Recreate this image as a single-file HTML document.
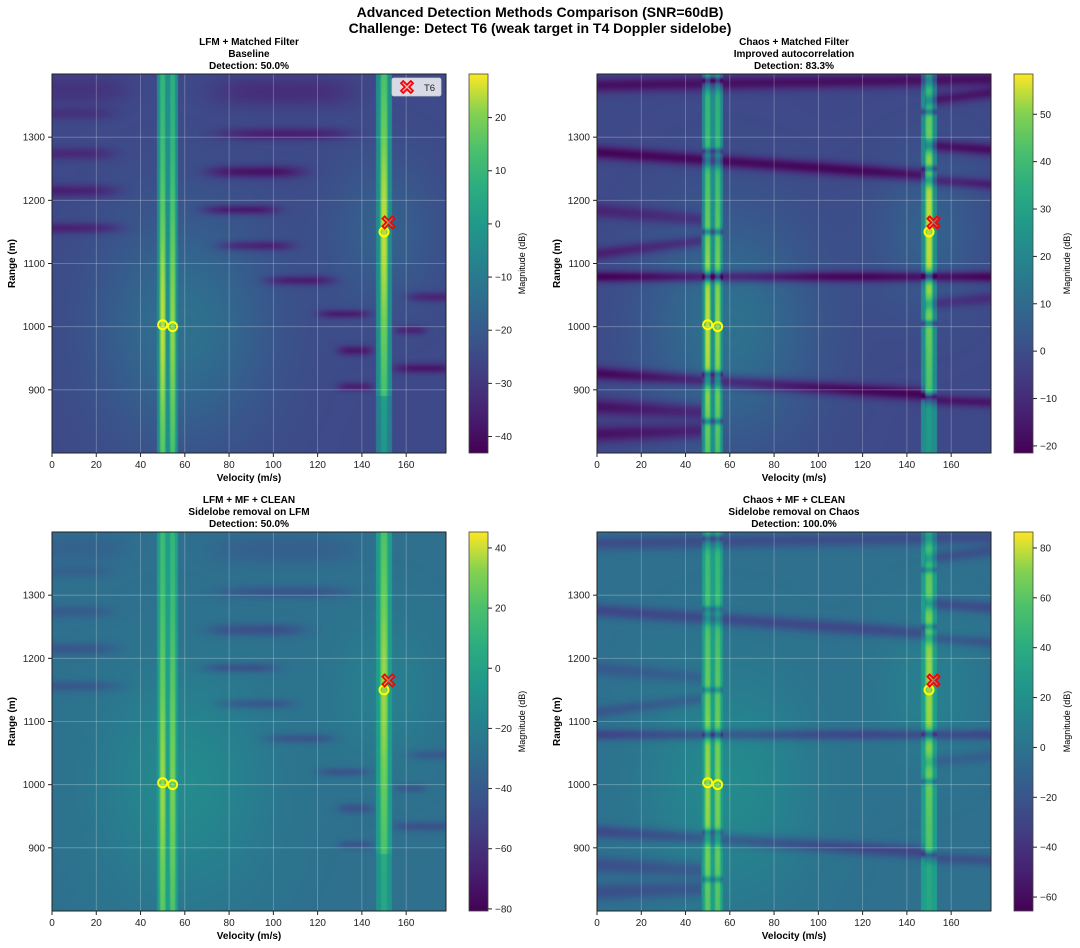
<!DOCTYPE html>
<html><head><meta charset="utf-8">
<style>
body{margin:0;background:#fff;width:1080px;height:948px;overflow:hidden;font-family:"Liberation Sans","DejaVu Sans",sans-serif;}
#root{position:relative;width:1080px;height:948px;}
.t{position:absolute;white-space:nowrap;color:#000;}
canvas{position:absolute;}
</style></head>
<body>
<div id="root">
<div class="t" style="left:0;width:1080px;text-align:center;top:4px;font-size:14px;font-weight:bold;line-height:16px;">Advanced Detection Methods Comparison (SNR=60dB)<br>Challenge: Detect T6 (weak target in T4 Doppler sidelobe)</div>
<svg id="svg" width="1080" height="948" style="position:absolute;left:0;top:0;"></svg>
</div>
<script>
// ---- data ----
const velocityTicks = [0,20,40,60,80,100,120,140,160];
const rangeTicks = [900,1000,1100,1200,1300];
const velDomain = [0,178];
const rangeDomain = [800,1400];
const detectedVel = [50,54.5,150];
const detectedRange = [1003,1000,1150];
const t6Vel = [152];
const t6Range = [1165];
const bandVel = [50,54.5,150];
const bandPeak = [0.97,0.93,0.97];
const titles = ["LFM + Matched Filter\nBaseline\nDetection: 50.0%","Chaos + Matched Filter\nImproved autocorrelation\nDetection: 83.3%","LFM + MF + CLEAN\nSidelobe removal on LFM\nDetection: 50.0%","Chaos + MF + CLEAN\nSidelobe removal on Chaos\nDetection: 100.0%"];
const cbarMin = [-43.1,-21.5,-80.7,-65.6];
const cbarMax = [28.2,58.5,45.3,86.4];
const cbarTicks1 = [-40,-30,-20,-10,0,10,20];
const cbarTicks2 = [-20,-10,0,10,20,30,40,50];
const cbarTicks3 = [-80,-60,-40,-20,0,20,40];
const cbarTicks4 = [-60,-40,-20,0,20,40,60,80];
// LFM sidelobe streaks: velocity centre, range centre, velocity half-width, range half-height, depth
const lfmStreakV = [10,8,8,10,105,105,92,85,92,112,132,137,137,172,162,168,10];
const lfmStreakR = [1337,1274,1215,1156,1372,1305,1245,1185,1128,1073,1020,962,905,1047,994,934,1375];
const lfmStreakHW = [18,20,22,22,32,30,22,17,17,16,12,8,8,12,7,14,24];
const lfmStreakHH = [10,10,10,9,24,10,10,8,8,8,7,8,7,8,7,8,24];
const lfmStreakDepth = [0.08,0.12,0.15,0.15,0.1,0.15,0.2,0.2,0.18,0.18,0.18,0.18,0.15,0.15,0.15,0.18,0.08];
// Chaos streak lines: v0, r0, v1, r1, sigma, depth
const chaosV0 = [0,0,150,150,0,0,150,0,0,0,0,150,150];
const chaosR0 = [1382,1276,1287,1232,1079,926,884,1184,1115,873,830,1358,1036];
const chaosV1 = [178,146,178,178,178,146,178,45,45,45,45,178,178];
const chaosR1 = [1392,1240,1280,1225,1079,893,880,1170,1135,865,835,1370,1045];
const chaosSig = [12,11,10,9,9,11,9,12,10,14,14,10,10];
const chaosDepth = [0.2,0.24,0.22,0.18,0.26,0.24,0.18,0.14,0.16,0.2,0.2,0.18,0.12];
const chaosGapR1 = [1390,1278,1150,1079,925,850];
const chaosGapR2 = [1340,1250,1080,1005,890];

const PL=[52,597], PT=[74,532], PW=394, PH=379, CBX=[469,1014], CBW=19;
const svg=document.getElementById('svg');
const NS='http://www.w3.org/2000/svg';
function mk(tag,attrs,parent){const e=document.createElementNS(NS,tag);for(const k in attrs)e.setAttribute(k,attrs[k]);(parent||svg).appendChild(e);return e;}
const vir=[[0,68,1,84],[0.13,72,40,120],[0.25,62,73,137],[0.38,49,104,142],[0.5,38,130,142],[0.63,31,158,137],[0.75,53,183,121],[0.88,110,206,88],[1,253,231,37]];
function cmap(t){t=Math.max(0,Math.min(1,t));for(let i=1;i<vir.length;i++){if(t<=vir[i][0]){const a=vir[i-1],b=vir[i],f=(t-a[0])/(b[0]-a[0]);return [a[1]+f*(b[1]-a[1]),a[2]+f*(b[2]-a[2]),a[3]+f*(b[3]-a[3])];}}return [253,231,37];}

function lines(v,r,chaos){
  let s=0;
  const env1=0.76+0.22*Math.exp(-Math.pow((r-1000)/230,2));
  const env2=(r<890?0.6:0.76)+0.22*Math.exp(-Math.pow((r-1150)/230,2));
  for(let i=0;i<bandVel.length;i++){
    const env=i<2?env1:env2;
    const w=i<2?1.9:2.4;
    s=Math.max(s,bandPeak[i]*env*Math.exp(-Math.pow((v-bandVel[i])/w,4)));
  }
  let inB1=Math.abs(v-52.2)<4.6, inB2=Math.abs(v-150)<3.6;
  if(inB1) s=Math.max(s,0.55); if(inB2) s=Math.max(s,r<890&&!chaos?0.48:0.55);
  return {s,inB:inB1||inB2,b1:inB1,b2:inB2};
}
function field(v,r,chaos){
  let bg=0.25+0.17*Math.exp(-Math.pow((v-60)/38,2)-Math.pow((r-1000)/180,2))+0.1*Math.exp(-Math.pow((v-150)/25,2)-Math.pow((r-1150)/120,2));
  if(!chaos){
    for(let i=0;i<lfmStreakV.length;i++){
      const dv=(v-lfmStreakV[i])/lfmStreakHW[i], dr=(r-lfmStreakR[i])/lfmStreakHH[i];
      bg-=lfmStreakDepth[i]*Math.exp(-dv*dv*dv*dv-dr*dr);
    }
    const L=lines(v,r,false);
    return L.inB?Math.max(bg,L.s):bg;
  } else {
    const L=lines(v,r,true);
    let t=L.inB?Math.max(bg,L.s):bg;
    for(let i=0;i<chaosV0.length;i++){
      if(v<chaosV0[i]-2||v>chaosV1[i]+2)continue;
      const rc=chaosR0[i]+(chaosR1[i]-chaosR0[i])*(v-chaosV0[i])/(chaosV1[i]-chaosV0[i]);
      const dr=(r-rc)/chaosSig[i];
      t-=chaosDepth[i]*(L.inB?1.4:1)*Math.exp(-dr*dr);
    }
    if(L.b1)for(const g of chaosGapR1){const d=(r-g)/5;t-=0.3*Math.exp(-d*d);}
    if(L.b2)for(const g of chaosGapR2){const d=(r-g)/5;t-=0.3*Math.exp(-d*d);}
    return t;
  }
}
function xS(v,p){return PL[p%2]+(v-velDomain[0])/(velDomain[1]-velDomain[0])*PW;}
function yS(r,p){return PT[Math.floor(p/2)]+(rangeDomain[1]-r)/(rangeDomain[1]-rangeDomain[0])*PH;}

const cbTicks=[cbarTicks1,cbarTicks2,cbarTicks3,cbarTicks4];
for(let p=0;p<4;p++){
  const L=PL[p%2],T=PT[Math.floor(p/2)],chaos=p%2===1,clean=p>=2;
  const cv=document.createElement('canvas');cv.width=PW;cv.height=PH;
  cv.style.left=L+'px';cv.style.top=T+'px';
  
  
  document.getElementById('root').insertBefore(cv,svg);
  const ctx=cv.getContext('2d');const im=ctx.createImageData(PW,PH);
  for(let y=0;y<PH;y++){const r=rangeDomain[1]-(y+0.5)/PH*(rangeDomain[1]-rangeDomain[0]);
    for(let x=0;x<PW;x++){const v=velDomain[0]+(x+0.5)/PW*(velDomain[1]-velDomain[0]);
      let t=field(v,r,chaos);
      if(clean) t=0.235+0.72*t;
      const c=cmap(t),k=(y*PW+x)*4;im.data[k]=c[0];im.data[k+1]=c[1];im.data[k+2]=c[2];im.data[k+3]=255;}}
  ctx.putImageData(im,0,0);
  const g=mk('g',{});
  velocityTicks.forEach(v=>mk('line',{x1:xS(v,p),x2:xS(v,p),y1:T,y2:T+PH,stroke:'rgba(255,255,255,0.3)','stroke-width':0.8},g));
  rangeTicks.forEach(r=>mk('line',{x1:L,x2:L+PW,y1:yS(r,p),y2:yS(r,p),stroke:'rgba(255,255,255,0.3)','stroke-width':0.8},g));
  mk('rect',{x:L,y:T,width:PW,height:PH,fill:'none',stroke:'#222','stroke-width':1,});
  velocityTicks.forEach(v=>{const x=xS(v,p);mk('line',{x1:x,x2:x,y1:T+PH,y2:T+PH+4,stroke:'#222'});
    const tx=mk('text',{x:x,y:T+PH+15,'font-size':10,'text-anchor':'middle',fill:'#222'});tx.textContent=v;
    });
  rangeTicks.forEach(r=>{const y=yS(r,p);mk('line',{x1:L-4,x2:L,y1:y,y2:y,stroke:'#222'});
    const tx=mk('text',{x:L-7,y:y+3.5,'font-size':10,'text-anchor':'end',fill:'#222'});tx.textContent=r;
    });
  const xl=mk('text',{x:L+PW/2,y:T+PH+28,'font-size':10,'font-weight':'bold','text-anchor':'middle'});xl.textContent='Velocity (m/s)';
  
  const yl=mk('text',{x:0,y:0,'font-size':10,'font-weight':'bold','text-anchor':'middle',transform:`translate(${L-37},${T+PH/2}) rotate(-90)`});yl.textContent='Range (m)';
  
  titles[p].split('\n').forEach((s,i)=>{const tt=mk('text',{x:L+PW/2,y:T-29+i*12,'font-size':10,'font-weight':'bold','text-anchor':'middle'});tt.textContent=s;
    });
  const gid='cg'+p;const defs=mk('defs',{});const lg=mk('linearGradient',{id:gid,x1:0,y1:1,x2:0,y2:0},defs);
  for(let i=0;i<=10;i++){const c=cmap(i/10);mk('stop',{offset:i/10,'stop-color':`rgb(${c.map(Math.round).join(',')})`},lg);}
  const cbx=CBX[p%2];
  mk('rect',{x:cbx,y:T,width:CBW,height:PH,fill:`url(#${gid})`,stroke:'#444','stroke-width':0.8,});
  cbTicks[p].forEach(d=>{const y=T+PH-(d-cbarMin[p])/(cbarMax[p]-cbarMin[p])*PH;
    mk('line',{x1:cbx+CBW,x2:cbx+CBW+4,y1:y,y2:y,stroke:'#222'});
    const tx=mk('text',{x:cbx+CBW+7,y:y+3.5,'font-size':10,fill:'#222'});tx.textContent=d<0?'\u2212'+(-d):d;
    });
  const cl=mk('text',{x:0,y:0,'font-size':9,'text-anchor':'middle',transform:`translate(${cbx+56},${T+PH/2}) rotate(-90)`});cl.textContent='Magnitude (dB)';
  
  for(let i=0;i<detectedVel.length;i++){
    const c=mk('circle',{cx:xS(detectedVel[i],p),cy:yS(detectedRange[i],p),r:4.5,fill:'none',stroke:'#ffff00','stroke-width':2});
    
  }
  for(let i=0;i<t6Vel.length;i++){
    const cx=xS(t6Vel[i],p),cy=yS(t6Range[i],p),a=2.2,b=6;
    const pts=[[0,-a],[b-a,-b],[b,-b+a],[a,0],[b,b-a],[b-a,b],[0,a],[-b+a,b],[-b,b-a],[-a,0],[-b,-b+a],[-b+a,-b]].map(q=>(cx+q[0])+','+(cy+q[1])).join(' ');
    const m=mk('polygon',{points:pts,fill:'rgba(255,120,120,0.35)',stroke:'#ff0000','stroke-width':1.8});
    
  }
}
const lgG=mk('g',{});
mk('rect',{x:392,y:78,width:49,height:18,rx:2,fill:'rgba(255,255,255,0.8)',stroke:'#ccc','stroke-width':0.8},lgG);
{const cx=407,cy=87,a=2.2,b=6;
 const pts=[[0,-a],[b-a,-b],[b,-b+a],[a,0],[b,b-a],[b-a,b],[0,a],[-b+a,b],[-b,b-a],[-a,0],[-b,-b+a],[-b+a,-b]].map(q=>(cx+q[0])+','+(cy+q[1])).join(' ');
 mk('polygon',{points:pts,fill:'rgba(255,120,120,0.35)',stroke:'#ff0000','stroke-width':1.8,},lgG);}
const lt=mk('text',{x:424,y:91,'font-size':9.5,fill:'#222',},lgG);lt.textContent='T6';
</script>
</body></html>
